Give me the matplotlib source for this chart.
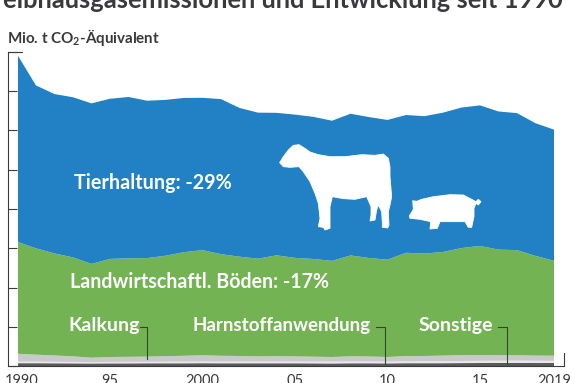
import matplotlib
matplotlib.use("Agg")
import matplotlib.pyplot as plt
from matplotlib.patches import Polygon
from matplotlib.transforms import ScaledTranslation

plt.rcParams['font.family'] = ['Lato', 'DejaVu Sans']
plt.rcParams['mathtext.fontset'] = 'custom'
plt.rcParams['mathtext.rm'] = 'Lato'
plt.rcParams['mathtext.bf'] = 'Lato:bold'

years = list(range(1990, 2020))
tick_years = [1990, 1995, 2000, 2005, 2010, 2015, 2019]
tick_labels = ['1990', '95', '2000', '05', '10', '15', '2019']
y_ticks = [0, 10, 20, 30, 40, 50, 60, 70, 80]

tierhaltung = [47.6, 41.5, 40.6, 40.8, 40.9, 40.8, 41.1, 40.1, 39.7, 39.3, 38.8, 39.5, 37.9, 37.2, 36.3,
               36.5, 36.2, 35.7, 36.1, 35.9, 35.6, 35.1, 35.0, 35.5, 35.8, 35.8, 35.2, 34.9, 33.8, 33.4]
boeden = [28.5, 27.1, 26.0, 25.2, 23.9, 25.0, 25.1, 25.1, 25.6, 26.4, 26.8, 25.9, 25.3, 24.9, 25.7,
          25.1, 24.9, 24.5, 25.7, 25.1, 24.8, 26.3, 26.1, 26.4, 27.3, 27.8, 26.9, 26.8, 25.4, 24.2]
kalkung = [2.01, 1.76, 1.60, 1.43, 1.11, 1.25, 1.28, 1.31, 1.40, 1.48, 1.59, 1.48, 1.41, 1.31, 1.36,
           1.29, 1.23, 1.15, 1.29, 1.26, 1.17, 1.35, 1.33, 1.41, 1.47, 1.48, 1.39, 1.35, 1.31, 1.30]
harnstoff = [.40, .40, .38, .36, .34, .36, .38, .38, .40, .42, .42, .42, .44, .44, .44,
             .46, .46, .48, .48, .46, .44, .48, .50, .52, .54, .56, .58, .60, .58, .56]
sonstige = [.72, .72, .70, .68, .66, .68, .68, .70, .70, .70, .72, .70, .70, .70, .70,
            .70, .68, .66, .70, .70, .68, .72, .72, .72, .74, .76, .78, .78, .76, .76]

W, H = 575, 383
DARK = '#3a3a3c'
fig = plt.figure(figsize=(W / 100, H / 100), dpi=100, facecolor='white')
ax = fig.add_axes([17.5 / W, (H - 366) / H, 536.5 / W, 314 / H])
ax.stackplot(years, sonstige, harnstoff, kalkung, boeden, tierhaltung,
             colors=['#5a5a5c', '#e8e8e8', '#c9c9cb', '#74b354', '#2181c4'], linewidth=0)
ax.set_xlim(1990, 2019)
ax.set_ylim(0, 80)
ax.set_xticks(tick_years, tick_labels)
ax.set_yticks(y_ticks, [''] * len(y_ticks))
for s in ['top', 'right', 'bottom']:
    ax.spines[s].set_visible(False)
ax.spines['left'].set_position(('outward', 6.8))
ax.spines['left'].set_color(DARK)
ax.spines['left'].set_linewidth(0.8)
ax.tick_params(axis='y', direction='in', length=6.6, width=0.8, color=DARK)
ax.tick_params(axis='x', length=0, pad=6.0, labelsize=10.5, labelcolor=DARK)
first = ax.get_xticklabels()[0]
first.set_transform(first.get_transform() + ScaledTranslation(4.5 / 100, 0, fig.dpi_scale_trans))
ax.patch.set_alpha(0)

ov = fig.add_axes([0, 0, 1, 1], zorder=5)
ov.set_xlim(0, W)
ov.set_ylim(H, 0)
ov.axis('off')

ov.plot([8, 563.5], [366, 366], color=DARK, lw=0.8, solid_capstyle='butt')
ov.plot([563.5, 563.5], [366, 353], color=DARK, lw=0.8)
ov.plot([8, 22], [52, 52], color=DARK, lw=0.8)

leaders = [([140, 147.3, 147.3], [326.5, 326.5, 359]),
           ([375.7, 384.5, 384.5], [326.5, 326.5, 364]),
           ([498, 507.3, 507.3], [326.5, 326.5, 364])]
for lx, ly in leaders:
    ov.plot(lx, ly, color='#2d4a2a', lw=0.8)

ov.text(3, 8.5, 'eibhausgasemissionen und Entwicklung seit 1990', fontsize=18.4, fontweight='bold',
        color=DARK, va='baseline', ha='left', clip_on=False)
ov.text(7, 42.5, r'Mio. t CO$_{\mathbf{2}}$-Äquivalent', fontsize=10.9, fontweight='bold',
        color=DARK, va='baseline', ha='left')
white = dict(color='white', fontweight='bold', va='baseline', ha='left')
ov.text(74, 189, 'Tierhaltung: -29%', fontsize=14.2, **white)
ov.text(70, 288, 'Landwirtschaftl. Böden: -17%', fontsize=14.1, **white)
ov.text(68, 331, 'Kalkung', fontsize=14, **white)
ov.text(192, 331, 'Harnstoffanwendung', fontsize=13.5, **white)
ov.text(418.5, 331, 'Sonstige', fontsize=14, **white)

cow = [(14, 68), (25, 50), (40, 30), (55, 16), (72, 14), (85, 22), (105, 36), (130, 44), (165, 50), (210, 50),
       (260, 44), (300, 46), (325, 42), (340, 55), (345, 80), (345, 110), (350, 170), (345, 195), (340, 215),
       (342, 255), (338, 264), (322, 262), (322, 250), (320, 215), (310, 195), (305, 210), (300, 240),
       (285, 243), (288, 225), (288, 200), (275, 170), (240, 178), (205, 176), (172, 170), (165, 200),
       (165, 265), (150, 270), (145, 262), (130, 260), (135, 235), (130, 190), (120, 160), (105, 125),
       (85, 95), (72, 80), (45, 82), (25, 80)]
pig = [(28, 78), (40, 58), (38, 32), (50, 34), (65, 28), (100, 20), (150, 14), (190, 15), (215, 28), (228, 35),
       (235, 28), (243, 35), (235, 45), (228, 40), (222, 55), (222, 80), (215, 112), (205, 112), (195, 95),
       (120, 95), (112, 115), (90, 117), (92, 95), (60, 88), (30, 85)]
ov.add_patch(Polygon([(275 + x / 3, 140 + y / 3) for x, y in cow], closed=True, fc='white', ec='white', lw=0.6))
ov.add_patch(Polygon([(400 + x / 3, 190 + y / 3) for x, y in pig], closed=True, fc='white', ec='white', lw=0.6))

fig.savefig('out.png', dpi=100)
